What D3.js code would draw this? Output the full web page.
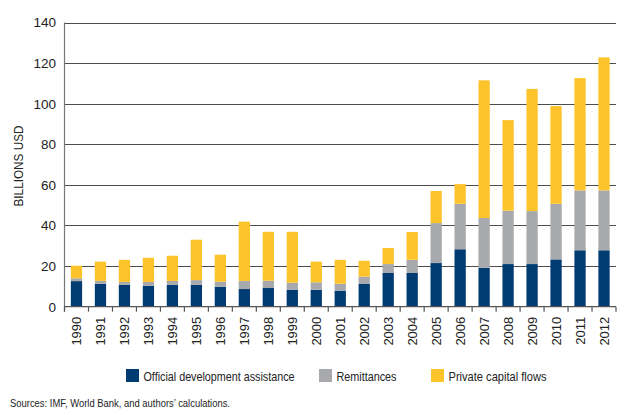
<!DOCTYPE html>
<html>
<head>
<meta charset="utf-8">
<script src="https://cdn.jsdelivr.net/npm/d3@7"></script>
<style>
  html, body { margin: 0; padding: 0; background: #fff; }
  svg { display: block; }
</style>
</head>
<body>
<svg id="chart" width="630" height="415"></svg>
<script>
const years = ["1990","1991","1992","1993","1994","1995","1996","1997","1998","1999","2000","2001","2002","2003","2004","2005","2006","2007","2008","2009","2010","2011","2012"];
const oda        = [12.6,11.3,10.8,10.3,10.8,10.8,9.8,8.7,9.2,8.4,8.3,7.9,11.2,16.6,16.6,21.5,28.3,19.2,21.0,21.0,23.3,27.8,27.8];
const remittances= [1.4,1.4,1.4,1.9,1.9,2.3,2.5,4.0,3.6,3.4,3.7,3.4,3.6,4.4,6.5,19.7,22.4,24.5,26.3,26.1,27.4,29.5,29.5];
const privateFlows=[6.2,9.5,10.9,11.9,12.4,19.9,13.3,29.2,24.1,25.1,10.2,11.8,7.8,7.9,13.7,15.8,9.7,67.8,44.6,60.2,48.1,55.3,65.5];
const seriesNames = ["Official development assistance","Remittances","Private capital flows"];
const seriesColors = ["#003b71","#a7a9ac","#fdc32a"];
const yTicks = [0,20,40,60,80,100,120,140];
const yTitle = "BILLIONS USD";
const sourceNote = "Sources: IMF, World Bank, and authors\u2019 calculations.";

const svg = d3.select("#chart");
const mLeft = 64.5, mRight = 616, mTop = 22.5, mBottom = 306.7;
const font = "'Liberation Sans', Arial, sans-serif";

const rows = years.map((y,i) => ({year:y, oda:oda[i], rem:remittances[i], priv:privateFlows[i]}));
const keys = ["oda","rem","priv"];
const stacked = d3.stack().keys(keys)(rows);

const x = d3.scaleBand().domain(years).range([mLeft, mRight]).paddingInner(0.53).paddingOuter(0.265);
const xb = d3.scaleBand().domain(years).range([mLeft, mRight]);
const y = d3.scaleLinear().domain([0,140]).range([mBottom, mTop]);

// gridlines
svg.append("g").selectAll("line").data(yTicks.filter(t=>t>0)).join("line")
  .attr("x1", mLeft).attr("x2", mRight)
  .attr("y1", d=>Math.round(y(d))+0.5).attr("y2", d=>Math.round(y(d))+0.5)
  .attr("stroke", "#4d4d4d").attr("stroke-width", 1);

// y tick labels
svg.append("g").selectAll("text").data(yTicks).join("text")
  .attr("x", 56).attr("y", d=>y(d)).attr("dy","0.36em")
  .attr("text-anchor","end")
  .style("font-family",font)
  .style("font-size","13.5px").attr("fill","#222")
  .text(d=>d);

// bars
svg.append("g").selectAll("g").data(stacked).join("g")
  .attr("fill", (d,i)=>seriesColors[i])
  .selectAll("rect").data(d=>d).join("rect")
  .attr("x", d=>x(d.data.year))
  .attr("width", x.bandwidth())
  .attr("y", d=>y(d[1]))
  .attr("height", d=>y(d[0]) - y(d[1]));

// y axis line
svg.append("line").attr("x1",mLeft).attr("x2",mLeft).attr("y1",mTop).attr("y2",mBottom+5)
  .attr("stroke","#777").attr("stroke-width",1.2);

// x axis line
svg.append("line").attr("x1",mLeft).attr("x2",mRight).attr("y1",mBottom).attr("y2",mBottom)
  .attr("stroke","#555").attr("stroke-width",1.2);

// x ticks at band boundaries
const bounds = years.map(d=>xb(d)).concat([mRight]);
svg.append("g").selectAll("line").data(bounds).join("line")
  .attr("x1",d=>d).attr("x2",d=>d).attr("y1",mBottom).attr("y2",mBottom+5)
  .attr("stroke","#555").attr("stroke-width",1.2);

// x labels
svg.append("g").selectAll("text").data(years).join("text")
  .attr("transform", d=>`translate(${xb(d)+xb.bandwidth()/2+4.5},${mBottom+10}) rotate(-90)`)
  .attr("text-anchor","end")
  .style("font-family",font)
  .style("font-size","13px").attr("fill","#222")
  .text(d=>d);

// y title
svg.append("text")
  .attr("transform", `translate(22.5,166) rotate(-90)`)
  .attr("text-anchor","middle")
  .attr("textLength", 81).attr("lengthAdjust","spacingAndGlyphs")
  .style("font-family",font)
  .style("font-size","12px").attr("fill","#222")
  .text(yTitle);

// legend
const legX = [126, 319, 431];
const legW = [151, 60, 98];
const lg = svg.append("g").selectAll("g").data(seriesNames).join("g")
  .attr("transform",(d,i)=>`translate(${legX[i]},369)`);
lg.append("rect").attr("width",13).attr("height",13).attr("fill",(d,i)=>seriesColors[i]);
lg.append("text").attr("x",17.5).attr("y",11.5)
  .attr("textLength",(d,i)=>legW[i]).attr("lengthAdjust","spacingAndGlyphs")
  .style("font-family",font)
  .style("font-size","13px").attr("fill","#222")
  .text(d=>d);

// source
svg.append("text").attr("x",10).attr("y",407)
  .attr("textLength",220).attr("lengthAdjust","spacingAndGlyphs")
  .style("font-family",font)
  .style("font-size","11.5px").attr("fill","#222")
  .text(sourceNote);
</script>
</body>
</html>
